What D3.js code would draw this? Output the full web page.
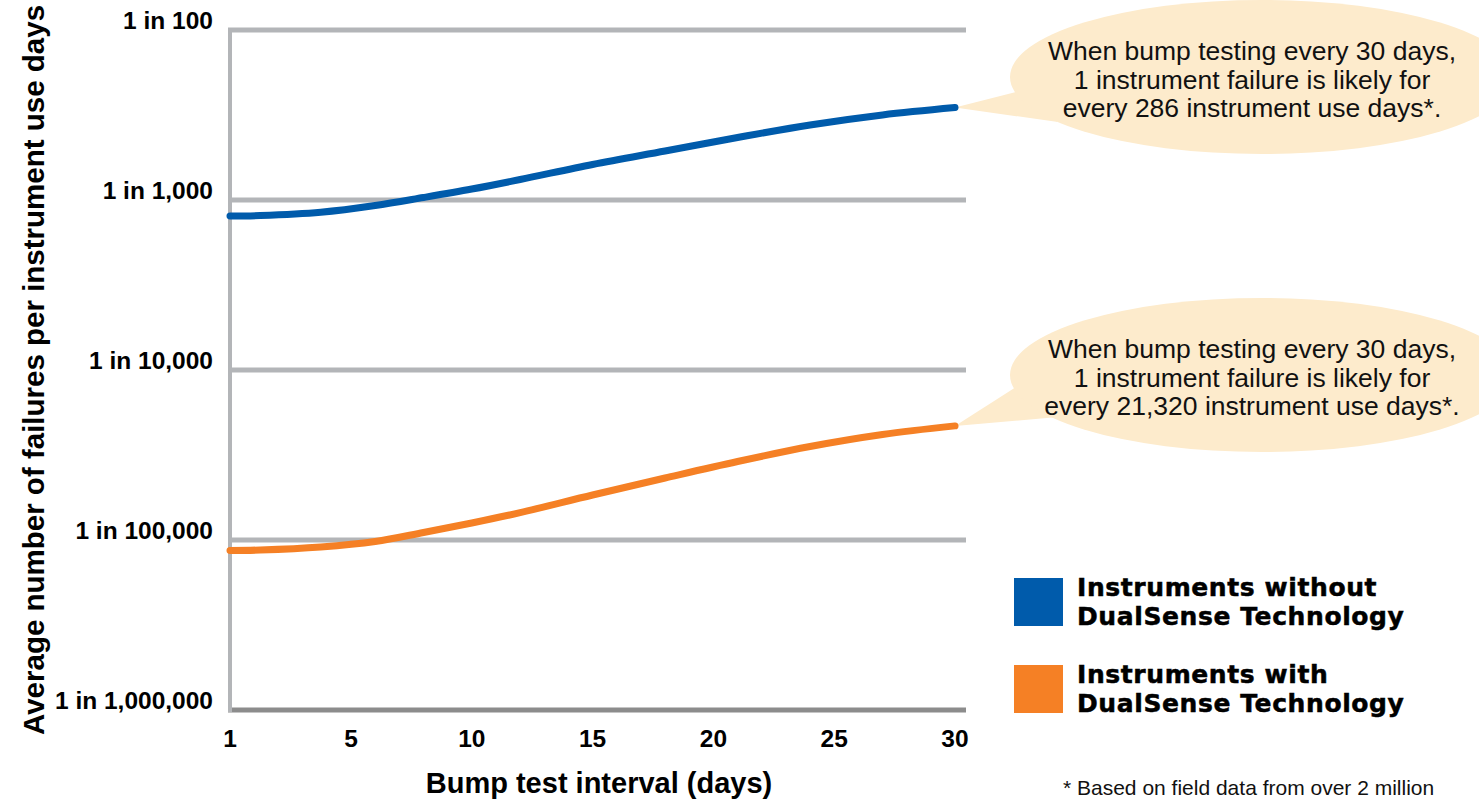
<!DOCTYPE html>
<html lang="en">
<head>
    <meta charset="UTF-8">
    <title>Bump test interval vs failures</title>
    <script src="https://d3js.org/d3.v7.min.js"></script>
    <style>
        body{
            margin: 0;
            background: #ffffff;
        }
        .tick-label{
            font-family: "Liberation Sans", Arial, sans-serif;
            font-weight: bold;
            font-size: 24.5px;
            fill: #000;
        }
        .axis-title{
            font-family: "Liberation Sans", Arial, sans-serif;
            font-weight: bold;
            font-size: 29px;
            fill: #000;
        }
        .callout{
            font-family: "Liberation Sans", Arial, sans-serif;
            font-size: 26.5px;
            fill: #111;
            text-anchor: middle;
        }
        .legend{
            font-family: "DejaVu Sans", sans-serif;
            font-weight: bold;
            font-size: 25px;
            letter-spacing: 0.6px;
            fill: #000;
            stroke: #000;
            stroke-width: 0.5px;
        }
        .note{
            font-family: "Liberation Sans", Arial, sans-serif;
            font-size: 21px;
            fill: #111;
        }
    </style>
</head>
<body>
<svg width="1479" height="799"></svg>
<script>
    // bump test interval in days
    const days = [1, 2, 4, 6, 8, 10, 12, 15, 18, 21, 24, 27, 30]
    // "1 in N" instrument use days
    const withoutDualSense = [1242, 1234, 1181, 1078, 967, 862, 758, 618, 515, 429, 362, 316, 286]
    const withDualSense = [115300, 114500, 109900, 102000, 90300, 79400, 69000, 54360, 43190, 34530, 28180, 23950, 21320]

    const yTicks = [100, 1000, 10000, 100000, 1000000]
    const xTicks = [1, 5, 10, 15, 20, 25, 30]

    const seriesNames = ["Instruments without|DualSense Technology", "Instruments with|DualSense Technology"]
    const seriesColors = ["#005bab", "#f58025"]
    const callouts = [
        ["When bump testing every 30 days,", "1 instrument failure is likely for", "every 286 instrument use days*."],
        ["When bump testing every 30 days,", "1 instrument failure is likely for", "every 21,320 instrument use days*."]
    ]

    let svg = d3.select("svg")

    // x: the 1 label sits where 0 would be, so the scale has a knee at 5
    let x = d3.scaleLinear()
        .domain([1, 5, 30])
        .range([230, 351, 955])

    let y = d3.scaleLog()
        .domain([1e-6, 1e-2])
        .range([710, 30])

    let fmt = d3.format(",")

    // gridlines
    svg.append("g")
        .selectAll("line")
        .data(yTicks)
        .enter()
        .append("line")
        .attr("x1", 228)
        .attr("x2", 966)
        .attr("y1", d => y(1 / d))
        .attr("y2", d => y(1 / d))
        .attr("stroke", d => d === 1000000 ? "#8c8c8c" : "#b3b5b8")
        .attr("stroke-width", 5)

    // left axis line
    svg.append("line")
        .attr("x1", 230).attr("x2", 230)
        .attr("y1", 28).attr("y2", 712)
        .attr("stroke", "#b3b5b8")
        .attr("stroke-width", 4)

    // y tick labels
    svg.append("g")
        .selectAll("text")
        .data(yTicks)
        .enter()
        .append("text")
        .attr("class", "tick-label")
        .attr("x", 213)
        .attr("y", d => y(1 / d) - 1)
        .attr("text-anchor", "end")
        .text(d => "1 in " + fmt(d))

    // x tick labels
    svg.append("g")
        .selectAll("text")
        .data(xTicks)
        .enter()
        .append("text")
        .attr("class", "tick-label")
        .attr("x", d => x(d))
        .attr("y", 747)
        .attr("text-anchor", "middle")
        .text(d => d)

    // axis titles
    svg.append("text")
        .attr("class", "axis-title")
        .attr("x", 599)
        .attr("y", 793)
        .attr("text-anchor", "middle")
        .text("Bump test interval (days)")

    svg.append("text")
        .attr("class", "axis-title")
        .attr("transform", "translate(44,370) rotate(-90)")
        .attr("text-anchor", "middle")
        .style("font-size", "29.5px")
        .text("Average number of failures per instrument use days")

    // callout bubbles, tail points at the last value of each line
    const allSeries = [withoutDualSense, withDualSense]
    allSeries.forEach((vals, i) => {
        let tipX = x(days[days.length - 1])
        let tipY = y(1 / vals[vals.length - 1])
        let cy = i === 0 ? 77 : 375
        let g = svg.append("g")
        g.append("path")
            .attr("d", `M${tipX},${tipY} L1016,${cy + (i === 0 ? 15 : 12)} L1058,${cy + (i === 0 ? 45 : 42)} Z`)
            .attr("fill", "#fdebcc")
        g.append("ellipse")
            .attr("cx", 1262)
            .attr("cy", cy)
            .attr("rx", 252)
            .attr("ry", 77)
            .attr("fill", "#fdebcc")
        g.selectAll("text")
            .data(callouts[i])
            .enter()
            .append("text")
            .attr("class", "callout")
            .attr("x", 1252)
            .attr("y", (d, j) => cy - 17 + j * 28.5)
            .text(d => d)
    })

    // lines
    let line = d3.line()
        .x((d, i) => x(days[i]))
        .y(d => y(1 / d))
        .curve(d3.curveCatmullRom.alpha(0.5))

    allSeries.forEach((vals, i) => {
        svg.append("path")
            .datum(vals)
            .attr("d", line)
            .attr("fill", "none")
            .attr("stroke", seriesColors[i])
            .attr("stroke-width", 7)
            .attr("stroke-linecap", "round")
    })

    // legend
    let legend = svg.append("g")
        .selectAll("g")
        .data(seriesNames)
        .enter()
        .append("g")
        .attr("transform", (d, i) => `translate(1014,${578 + i * 87})`)

    legend.append("rect")
        .attr("width", 49)
        .attr("height", 48)
        .attr("fill", (d, i) => seriesColors[i])

    legend.append("text")
        .attr("class", "legend")
        .attr("x", 63)
        .attr("y", 18)
        .text(d => d.split("|")[0])

    legend.append("text")
        .attr("class", "legend")
        .attr("x", 63)
        .attr("y", 47)
        .text(d => d.split("|")[1])

    svg.append("text")
        .attr("class", "note")
        .attr("x", 1063)
        .attr("y", 795)
        .text("* Based on field data from over 2 million")
</script>
</body>
</html>
